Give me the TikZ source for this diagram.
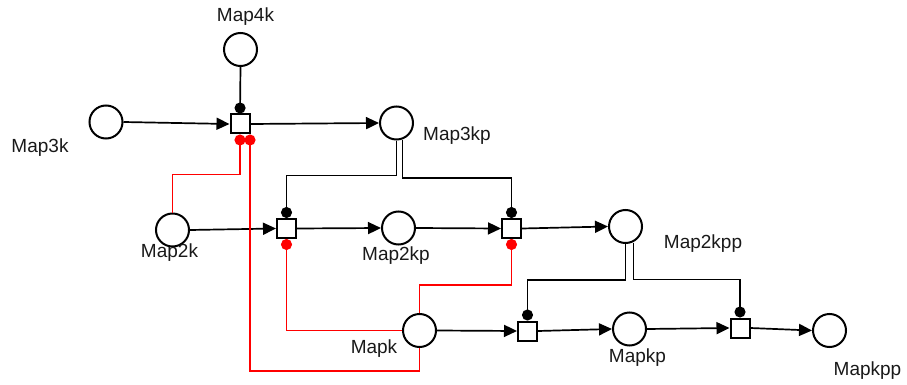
\documentclass[tikz,border=0pt]{standalone}
\usepackage{fontspec}
\setmainfont{Liberation Sans}
\usetikzlibrary{arrows.meta,calc}
\begin{document}
\begin{tikzpicture}[x=1pt,y=-1pt,
  place/.style={circle,draw,line width=2pt,minimum size=33pt,inner sep=0pt,fill=white},
  trans/.style={rectangle,draw,line width=2pt,minimum size=19pt,inner sep=0pt,fill=white},
  lbl/.style={anchor=base,font=\fontsize{19}{21}\selectfont,text=black!90,inner sep=0pt},
  arc/.style={line width=1.7pt,-{Triangle[length=13pt,width=12pt]}},
  readarc/.style={line width=1.7pt,-{Circle[length=11pt]}},
  inharc/.style={line width=1.7pt,red,-{Circle[length=11pt]}}]
\useasboundingbox (0,0) rectangle (907,385);
% places
\node[place] (m4k) at (240.5,49.5) {};
\node[place] (m3k) at (106,122) {};
\node[place] (m3kp) at (396.5,123) {};
\node[place] (m2k) at (172.5,230) {};
\node[place] (m2kp) at (398.5,228) {};
\node[place] (m2kpp) at (625.5,226.5) {};
\node[place] (mk) at (419.5,330.5) {};
\node[place] (mkp) at (629.5,329) {};
\node[place] (mkpp) at (829.5,330.5) {};
% transitions
\node[trans] (t1) at (240,124) {};
\node[trans] (t2) at (286.5,228.5) {};
\node[trans] (t3) at (511.5,228.5) {};
\node[trans] (t4) at (527.5,331) {};
\node[trans] (t5) at (740,328) {};
% labels
\node[lbl] (l4k) at (245.5,22) {Map4k};
\node[lbl] (l3k) at (40,153) {Map3k};
\node[lbl] (l2k) at (169.5,257) {Map2k};
\node[lbl] (l3kp) at (457,140) {Map3kp};
\node[lbl] (l2kp) at (396,260) {Map2kp};
\node[lbl] (l2kpp) at (703,248) {Map2kpp};
\node[lbl] (lk) at (374,353) {Mapk};
\node[lbl] (lkp) at (637.5,362) {Mapkp};
\node[lbl] (lkpp) at (867.5,375) {Mapkpp};
% normal arcs
\draw[arc] (m3k.east) -- (t1.west);
\draw[arc] (t1.east) -- (m3kp.west);
\draw[arc] (m2k.east) -- (t2.west);
\draw[arc] (t2.east) -- (m2kp.west);
\draw[arc] (m2kp.east) -- (t3.west);
\draw[arc] (t3.east) -- (m2kpp.west);
\draw[arc] (mk.east) -- (t4.west);
\draw[arc] (t4.east) -- (mkp.west);
\draw[arc] (mkp.east) -- (t5.west);
\draw[arc] (t5.east) -- (mkpp.west);
% read arcs
\draw[readarc] (m4k.south) -- (t1.north);
\draw[readarc] (m3kp.south) -- ++(0,35) -| (t2.north);
\draw[readarc] ($(m3kp.center)+(6,17)$) -- ++(0,38) -| (t3.north);
\draw[readarc] (m2kpp.south) -- ++(0,36) -| (t4.north);
\draw[readarc] ($(m2kpp.center)+(8,16)$) -- ++(0,37) -| (t5.north);
% red arcs
\draw[inharc] (m2k.north) -- ++(0,-38) -| (t1.south);
\draw[inharc] (mk.south) -- ++(0,23) -| ([xshift=10pt]t1.south);
\draw[inharc] (mk.west) -| (t2.south);
\draw[inharc] (mk.north) -- ++(0,-28) -| (t3.south);
\end{tikzpicture}
\end{document}
